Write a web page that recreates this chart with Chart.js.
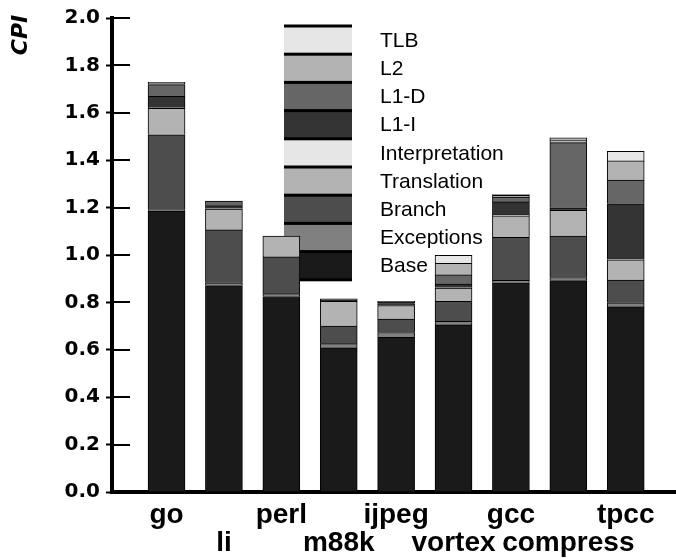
<!DOCTYPE html>
<html>
<head>
<meta charset="utf-8">
<title>CPI breakdown</title>
<script src="https://cdn.jsdelivr.net/npm/chart.js@4.4.1/dist/chart.umd.min.js"></script>
<style>
  html, body { margin: 0; padding: 0; background: #fff; }
  #wrap { width: 676px; height: 559px; }
</style>
</head>
<body>
<div id="wrap"><canvas id="cpiChart" width="676" height="559"></canvas></div>
<script>
// Benchmarks, left to right
const benchmarks = ["go", "li", "perl", "m88k", "ijpeg", "vortex", "gcc", "compress", "tpcc"];

// CPI components, stacked from the bottom up
const base           = [1.185, 0.871, 0.825, 0.608, 0.653, 0.705, 0.883, 0.892, 0.781];
const exceptions     = [0.006, 0.012, 0.012, 0.018, 0.020, 0.015, 0.010, 0.013, 0.017];
const branch         = [0.316, 0.223, 0.155, 0.074, 0.057, 0.084, 0.182, 0.175, 0.096];
const translation    = [0.112, 0.088, 0.088, 0.105, 0.057, 0.056, 0.090, 0.109, 0.086];
const interpretation = [0.004, 0.002, 0.000, 0.000, 0.000, 0.003, 0.004, 0.002, 0.003];
const l1i            = [0.046, 0.012, 0.000, 0.005, 0.008, 0.014, 0.055, 0.008, 0.233];
const l1d            = [0.050, 0.020, 0.000, 0.005, 0.005, 0.039, 0.020, 0.275, 0.100];
const l2             = [0.008, 0.000, 0.000, 0.000, 0.005, 0.049, 0.008, 0.012, 0.081];
const tlb            = [0.002, 0.000, 0.000, 0.000, 0.000, 0.034, 0.003, 0.008, 0.040];

// Y axis ticks
const yTicks = [0, 0.2, 0.4, 0.6, 0.8, 1.0, 1.2, 1.4, 1.6, 1.8, 2.0];

const seriesNames  = ["Base", "Exceptions", "Branch", "Translation", "Interpretation", "L1-I", "L1-D", "L2", "TLB"];
const seriesValues = [base, exceptions, branch, translation, interpretation, l1i, l1d, l2, tlb];
const seriesColors = ["#1a1a1a", "#808080", "#4d4d4d", "#b3b3b3", "#e6e6e6", "#333333", "#666666", "#b3b3b3", "#e6e6e6"];

// Legend drawn as one stacked column of swatches, behind the bars
const legendColumn = {
    id: "legendColumn",
    beforeDatasetsDraw(chart) {
        const ctx = chart.ctx;
        const left = 284, top = 26, w = 68, h = 28.2;
        const sets = chart.data.datasets.slice().reverse();
        ctx.save();
        sets.forEach((ds, i) => {
            const y = top + i * h;
            ctx.fillStyle = ds.backgroundColor;
            ctx.fillRect(left, y, w, h);
            ctx.fillStyle = "#000";
            ctx.fillRect(left, y - 1.5, w, 3);
            ctx.font = '21px "Liberation Sans", Arial, sans-serif';
            ctx.textBaseline = "middle";
            ctx.fillText(ds.label, 380, y + h / 2 + 1);
        });
        ctx.fillRect(left, top + sets.length * h - 1.5, w, 3);
        ctx.restore();
    }
};

// Inward tick marks and the rotated CPI title
const axisExtras = {
    id: "axisExtras",
    afterDraw(chart) {
        const ctx = chart.ctx;
        const yScale = chart.scales.y;
        const left = chart.chartArea.left;
        ctx.save();
        ctx.strokeStyle = "#000";
        ctx.lineWidth = 2;
        yScale.ticks.forEach(t => {
            const py = Math.round(yScale.getPixelForValue(t.value));
            ctx.beginPath();
            ctx.moveTo(left, py);
            ctx.lineTo(left + 18, py);
            ctx.stroke();
        });
        ctx.translate(21, 35);
        ctx.rotate(-Math.PI / 2);
        ctx.font = 'italic bold 22px "DejaVu Sans", sans-serif';
        ctx.textAlign = "center";
        ctx.textBaseline = "middle";
        ctx.fillStyle = "#000";
        ctx.fillText("CPI", 0, 0);
        ctx.restore();
    }
};

const datasets = seriesNames.map((name, k) => ({
    label: name,
    data: seriesValues[k].map((v, i) => ({ x: i, y: v })),
    backgroundColor: seriesColors[k],
    borderColor: "#000",
    borderWidth: 1,
    barThickness: 37
}));

new Chart(document.getElementById("cpiChart"), {
    type: "bar",
    data: { datasets },
    options: {
        responsive: false,
        animation: false,
        layout: { padding: { top: 15, left: 0, right: 0, bottom: 0 } },
        plugins: { legend: { display: false }, tooltip: { enabled: false } },
        scales: {
            x: {
                type: "linear",
                stacked: true,
                offset: false,
                min: -0.95,
                max: 8.876,
                grid: { display: false, drawTicks: false, offset: false },
                border: { display: true, width: 4, color: "#000" },
                afterBuildTicks: s => { s.ticks = benchmarks.map((b, i) => ({ value: i })); },
                afterFit: s => { s.height = 67; },
                ticks: {
                    autoSkip: false,
                    maxRotation: 0,
                    padding: 9,
                    color: "#000",
                    font: { family: '"Liberation Sans", Arial, sans-serif', weight: "bold", size: 28, lineHeight: 1 },
                    callback: (v, i) => i % 2 ? ["", benchmarks[i]] : [benchmarks[i], ""]
                }
            },
            y: {
                stacked: true,
                min: 0,
                max: 2,
                afterBuildTicks: s => { s.ticks = yTicks.map(v => ({ value: v })); },
                afterFit: s => { s.width = 112; },
                grid: { drawOnChartArea: false, drawTicks: true, tickLength: 6, tickWidth: 2, tickColor: "#000" },
                border: { display: true, width: 4, color: "#000" },
                ticks: {
                    padding: 6,
                    color: "#000",
                    font: { family: '"DejaVu Sans", sans-serif', weight: "bold", size: 20 },
                    callback: v => v.toFixed(1)
                }
            }
        }
    },
    plugins: [legendColumn, axisExtras]
});
</script>
</body>
</html>
